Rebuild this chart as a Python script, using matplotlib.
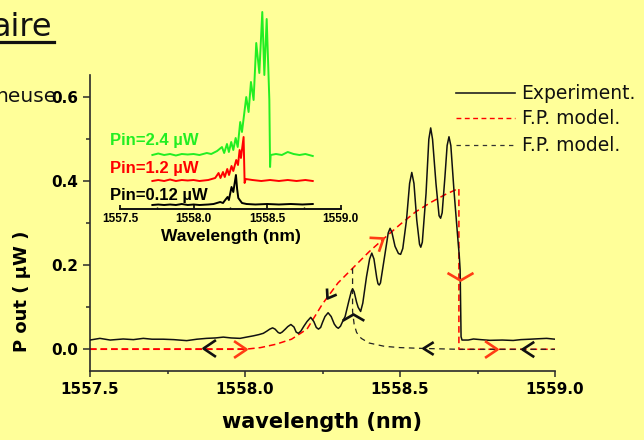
import matplotlib
matplotlib.use('Agg')
import matplotlib.pyplot as plt
import numpy as np
from matplotlib.path import Path
from matplotlib.markers import MarkerStyle
from matplotlib.transforms import Affine2D
from matplotlib.lines import Line2D

# ---------------- data ----------------
# main panel: experimental spectrum (wavelength nm, P out uW)
exp_wl = [1557.500, 1557.532, 1557.565, 1557.607, 1557.640, 1557.672, 1557.700, 1557.736,
          1557.770, 1557.812, 1557.845, 1557.876, 1557.905, 1557.930, 1557.955, 1557.984,
          1558.005, 1558.027, 1558.045, 1558.059, 1558.070, 1558.080, 1558.089, 1558.097,
          1558.107, 1558.113, 1558.120, 1558.130, 1558.138, 1558.148, 1558.158, 1558.165,
          1558.172, 1558.180, 1558.190, 1558.200, 1558.212, 1558.222, 1558.230, 1558.237,
          1558.244, 1558.250, 1558.258, 1558.268, 1558.278, 1558.288, 1558.295, 1558.301,
          1558.308, 1558.316, 1558.323, 1558.335, 1558.343, 1558.347, 1558.352, 1558.360,
          1558.365, 1558.373, 1558.380, 1558.392, 1558.402, 1558.409, 1558.416, 1558.425,
          1558.429, 1558.433, 1558.437, 1558.452, 1558.462, 1558.468, 1558.474, 1558.484,
          1558.495, 1558.502, 1558.509, 1558.521, 1558.531, 1558.538, 1558.545, 1558.554,
          1558.563, 1558.567, 1558.572, 1558.584, 1558.593, 1558.599, 1558.605, 1558.616,
          1558.626, 1558.631, 1558.636, 1558.645, 1558.652, 1558.658, 1558.664, 1558.674,
          1558.688, 1558.691, 1558.694, 1558.697, 1558.700, 1558.720, 1558.737, 1558.760,
          1558.790, 1558.830, 1558.865, 1558.890, 1558.919, 1558.945, 1558.973, 1559.000]
exp_p = [0.022, 0.026, 0.022, 0.0245, 0.023, 0.026, 0.024, 0.024,
         0.023, 0.0206, 0.024, 0.026, 0.027, 0.029, 0.027, 0.026,
         0.029, 0.032, 0.035, 0.038, 0.043, 0.048, 0.051, 0.048,
         0.040, 0.038, 0.041, 0.048, 0.054, 0.059, 0.053, 0.041,
         0.038, 0.043, 0.055, 0.066, 0.076, 0.066, 0.052, 0.048,
         0.052, 0.064, 0.078, 0.087, 0.078, 0.060, 0.053, 0.050,
         0.055, 0.068, 0.078, 0.115, 0.138, 0.144, 0.137, 0.112,
         0.100, 0.090, 0.110, 0.173, 0.215, 0.229, 0.215, 0.170,
         0.156, 0.153, 0.158, 0.229, 0.277, 0.288, 0.278, 0.245,
         0.228, 0.226, 0.240, 0.308, 0.395, 0.421, 0.395, 0.308,
         0.250, 0.243, 0.255, 0.371, 0.500, 0.527, 0.500, 0.395,
         0.318, 0.312, 0.325, 0.411, 0.485, 0.506, 0.485, 0.379,
         0.250, 0.225, 0.189, 0.030, 0.022, 0.022, 0.0245, 0.023,
         0.0213, 0.022, 0.021, 0.023, 0.024, 0.025, 0.026, 0.024]

# F.P. model, red (increasing sweep, upper branch)
fp_red_wl = [1557.500, 1558.000, 1558.050, 1558.100, 1558.150, 1558.200, 1558.250, 1558.300,
             1558.350, 1558.400, 1558.450, 1558.500, 1558.550, 1558.600, 1558.650, 1558.690,
             1558.690, 1559.000]
fp_red_p = [0.0, 0.0, 0.004, 0.012, 0.024, 0.048, 0.108, 0.158,
            0.195, 0.232, 0.265, 0.297, 0.327, 0.350, 0.370, 0.383,
            0.0, 0.0]

# F.P. model, black (decreasing sweep, lower branch)
fp_blk_wl = [1558.347, 1558.347, 1558.352, 1558.360, 1558.375, 1558.400, 1558.450, 1558.500,
             1558.575, 1558.690, 1559.000]
fp_blk_p = [0.193, 0.090, 0.060, 0.040, 0.026, 0.015, 0.007, 0.004,
            0.002, 0.0, 0.0]

# sweep-direction chevrons: position, pointing direction (deg), half angle, arm length
arrow_red_wl = [1558.003, 1558.446, 1558.694, 1558.812]
arrow_red_p = [0.0, 0.264, 0.165, 0.0]
arrow_red_dir = [0, 34, 270, 0]
arrow_red_half = [34, 37, 60, 34]
arrow_red_len = [15, 14, 15, 15]

arrow_blk_wl = [1557.863, 1558.573, 1558.892, 1558.349, 1558.266]
arrow_blk_p = [0.004, 0.004, 0.0, 0.084, 0.121]
arrow_blk_dir = [180, 180, 180, 90, 238]
arrow_blk_half = [34, 32, 33, 60, 35]
arrow_blk_len = [15, 12, 14, 12.5, 10]

# inset: measured spectra (a.u.) for three input powers
in_g_wl = [1557.72, 1557.76, 1557.80, 1557.84, 1557.88, 1557.92, 1557.96, 1558.00, 1558.04,
           1558.09, 1558.12, 1558.16, 1558.193, 1558.208, 1558.227, 1558.240, 1558.256,
           1558.270, 1558.286, 1558.300, 1558.317, 1558.329, 1558.358, 1558.374, 1558.390,
           1558.408, 1558.426, 1558.447, 1558.467, 1558.481, 1558.497, 1558.515, 1558.520,
           1558.524, 1558.56, 1558.60, 1558.64, 1558.68, 1558.72, 1558.76, 1558.81]
in_g_v = [54, 55.5, 54, 55, 53.5, 55, 54.5, 55, 54,
          56, 55, 58, 62, 56, 65, 57, 67,
          59, 71, 62, 87, 77, 112, 97, 127,
          109, 166, 136, 197, 134, 190, 109, 42,
          54, 55, 54, 57, 55, 54, 55, 53]

in_r_wl = [1557.72, 1557.76, 1557.80, 1557.84, 1557.88, 1557.92, 1557.96, 1558.00, 1558.04,
           1558.10, 1558.147, 1558.170, 1558.183, 1558.200, 1558.212, 1558.229, 1558.241,
           1558.258, 1558.270, 1558.290, 1558.302, 1558.313, 1558.322, 1558.340, 1558.347,
           1558.354, 1558.40, 1558.46, 1558.52, 1558.58, 1558.64, 1558.70, 1558.76, 1558.81]
in_r_v = [28, 29, 28, 29.5, 28, 29, 28.5, 29, 28,
          29, 31, 36, 31, 37, 32, 40, 34,
          43, 38, 49, 44, 59, 51, 72, 26,
          30, 29, 28, 29, 28, 29, 28, 29, 28]

in_k_wl = [1557.72, 1557.76, 1557.80, 1557.84, 1557.88, 1557.92, 1557.96, 1558.00, 1558.04,
           1558.10, 1558.136, 1558.181, 1558.200, 1558.215, 1558.231, 1558.240, 1558.258,
           1558.270, 1558.288, 1558.296, 1558.304, 1558.329, 1558.36, 1558.42, 1558.50,
           1558.58, 1558.66, 1558.74, 1558.81]
in_k_v = [4, 4.5, 4, 4.5, 4, 5, 4, 4.5, 4,
          4.5, 5, 7, 6, 9, 12, 9, 22,
          17, 34, 20, 11, 6, 5, 4.5, 5,
          4.5, 5, 4.5, 5]

inset_labels = ['Pin=2.4 \u00b5W', 'Pin=1.2 \u00b5W', 'Pin=0.12 \u00b5W']
inset_colors = ['#22EE22', '#FF0000', '#000000']

xticks_main = [1557.5, 1558.0, 1558.5, 1559.0]
xticklabels_main = ['1557.5', '1558.0', '1558.5', '1559.0']
yticks_main = [0.0, 0.2, 0.4, 0.6]
yticklabels_main = ['0.0', '0.2', '0.4', '0.6']

legend_labels = ['Experiment.', 'F.P. model.', 'F.P. model.']

# ---------------- figure ----------------
W, H = 644, 440
BG = '#FFFF99'
fig = plt.figure(figsize=(W / 100, H / 100), dpi=100, facecolor=BG)


def fx(px):
    return px / W


def fy(py):
    return 1 - py / H


SP = '#2a2a2a'
ax = fig.add_axes([fx(90), fy(371), fx(555) - fx(90), fy(75) - fy(371)])
ax.set_facecolor('none')
ax.set_xlim(1557.5, 1559.0)
ax.set_ylim(-0.0517, 0.653)
for s in ['top', 'right']:
    ax.spines[s].set_visible(False)
for s in ['left', 'bottom']:
    ax.spines[s].set_linewidth(1.2)
    ax.spines[s].set_color(SP)

ax.set_xticks(xticks_main)
ax.set_xticklabels(xticklabels_main)
ax.set_xticks([1557.75, 1558.25, 1558.75], minor=True)
ax.set_yticks(yticks_main)
ax.set_yticklabels(yticklabels_main)
ax.set_yticks([0.1, 0.3, 0.5], minor=True)
ax.tick_params(axis='x', which='major', direction='out', length=4.5, width=1.1, color=SP, pad=3.5)
ax.tick_params(axis='x', which='minor', direction='out', length=2.5, width=1.1, color=SP)
ax.tick_params(axis='y', which='major', direction='out', length=5, width=1.1, color=SP, pad=3.5)
ax.tick_params(axis='y', which='minor', direction='out', length=3, width=1.1, color=SP)
for lab in ax.get_xticklabels() + ax.get_yticklabels():
    lab.set_fontfamily('DejaVu Sans')
    lab.set_fontweight('bold')
    lab.set_fontsize(11)

ax.set_xlabel('wavelength (nm)', fontsize=15, fontweight='bold', va='center')
ax.xaxis.set_label_coords(0.5, (371 - 422) / 296)
ax.set_ylabel('P out ( \u00b5W )', fontsize=13, fontweight='bold', va='center', ha='center')
ax.yaxis.set_label_coords((22 - 90) / 465, (371 - 291) / 296)

# model curves
l_red, = ax.plot(fp_red_wl, fp_red_p, color='#FF0000', lw=1.1, ls=(0, (4.3, 2.6)), zorder=2)
l_blk, = ax.plot(fp_blk_wl, fp_blk_p, color='#222222', lw=0.9, ls=(0, (4.5, 3.6)), zorder=2)
ax.plot([fp_red_wl[0], fp_red_wl[1]], [fp_red_p[0], fp_red_p[1]], color='#FF0000', lw=1.1,
        ls=(0, (4.3, 2.6)), zorder=2.1)
# experiment
l_exp, = ax.plot(exp_wl, exp_p, color='#111111', lw=1.1, zorder=3)


def chevron_marker(direction, half):
    a = np.radians(half)
    verts = [(np.cos(a), np.sin(a)), (0.0, 0.0), (np.cos(a), -np.sin(a))]
    path = Path(verts, [Path.MOVETO, Path.LINETO, Path.LINETO])
    return MarkerStyle(path, fillstyle='none',
                       transform=Affine2D().rotate_deg(direction - 180))


def chevron_size(half, arm_px):
    a = np.radians(half)
    return 2 * arm_px * max(np.cos(a), np.sin(a)) * 0.72


for x, y, d, h, L in zip(arrow_red_wl, arrow_red_p, arrow_red_dir, arrow_red_half, arrow_red_len):
    ax.plot([x], [y], ls='none', marker=chevron_marker(d, h), ms=chevron_size(h, L),
            mec='#FF3C14', mew=1.9, zorder=4)
for x, y, d, h, L in zip(arrow_blk_wl, arrow_blk_p, arrow_blk_dir, arrow_blk_half, arrow_blk_len):
    ax.plot([x], [y], ls='none', marker=chevron_marker(d, h), ms=chevron_size(h, L),
            mec='#111111', mew=1.9, zorder=4)

# legend (drawn manually at the right side)
leg_rows = [93, 118.5, 145]
leg_styles = [dict(color='#222222', lw=1.2, ls='-'),
              dict(color='#FF0000', lw=1.0, ls=(0, (3.5, 2.5))),
              dict(color='#333333', lw=0.9, ls=(0, (3.5, 3.5)))]
for yrow, st, lab in zip(leg_rows, leg_styles, legend_labels):
    fig.add_artist(Line2D([fx(456), fx(515)], [fy(yrow), fy(yrow)], transform=fig.transFigure, **st))
    fig.text(fx(521.5), fy(yrow), lab, ha='left', va='center', fontsize=13.5,
             family='DejaVu Sans', color='#111111')

# ---------------- inset ----------------
axi = fig.add_axes([fx(120), fy(209), fx(340.7) - fx(120), fy(5) - fy(209)])
axi.set_facecolor('none')
axi.set_xlim(1557.5, 1559.0)
axi.set_ylim(0, 204)
for s in ['top', 'right', 'left']:
    axi.spines[s].set_visible(False)
axi.spines['bottom'].set_linewidth(1.4)
axi.spines['bottom'].set_color('#111111')
axi.set_yticks([])
axi.set_xticks(xticks_main)
axi.set_xticklabels(xticklabels_main)
axi.set_xticks([1557.75, 1558.25, 1558.75], minor=True)
axi.tick_params(axis='x', which='major', direction='in', length=3, width=1.2, pad=3)
axi.tick_params(axis='x', which='minor', direction='in', length=1.5, width=1.0)
for lab in axi.get_xticklabels():
    lab.set_fontfamily('Liberation Sans')
    lab.set_fontweight('bold')
    lab.set_fontsize(8.5)
axi.set_xlabel('Wavelength (nm)', fontsize=12.5, fontweight='bold', family='Liberation Sans',
               va='center')
axi.xaxis.set_label_coords((231 - 120) / 220.7, (209 - 236) / 204)

axi.plot(in_k_wl, in_k_v, color=inset_colors[2], lw=1.4)
axi.plot(in_r_wl, in_r_v, color=inset_colors[1], lw=1.4)
axi.plot(in_g_wl, in_g_v, color=inset_colors[0], lw=1.4)

for lab, col, yrow in zip(inset_labels, inset_colors, [141, 169, 195.5]):
    fig.text(fx(110.5), fy(yrow), lab, ha='left', va='center', fontsize=12,
             family='Liberation Sans', fontweight='bold', color=col)

# ---------------- slide fragments ----------------
fig.text(fx(52), fy(36), 'aire', ha='right', va='baseline', fontsize=23,
         family='DejaVu Sans', color='#111111')
fig.add_artist(Line2D([0, fx(54)], [fy(42), fy(42)], transform=fig.transFigure,
                      color='#111111', lw=2.3))
fig.text(fx(56), fy(101.7), 'neuse', ha='right', va='baseline', fontsize=14.5,
         family='DejaVu Sans', color='#111111')

fig.savefig('out.png', dpi=100, facecolor=BG)
